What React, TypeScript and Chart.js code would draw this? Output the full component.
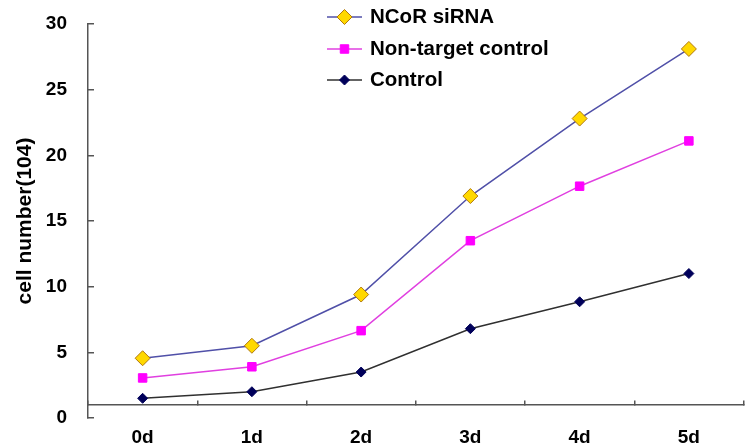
import React, { useEffect, useRef } from "react";
import { Chart, registerables } from "chart.js";

Chart.register(...registerables);

const categories = ["0d", "1d", "2d", "3d", "4d", "5d"];
const ncorSiRNA = [4.55, 5.5, 9.4, 16.9, 22.8, 28.1];
const nonTargetControl = [3.05, 3.9, 6.65, 13.5, 17.65, 21.1];
const control = [1.5, 2.0, 3.5, 6.8, 8.85, 11.0];
const seriesLabels = ["NCoR siRNA", "Non-target control", "Control"];
const yAxisTitle = "cell number(104)";

const FONT = "'Liberation Sans', Arial, sans-serif";

function drawMarker(ctx: CanvasRenderingContext2D, style: string, x: number, y: number, r: number) {
  ctx.beginPath();
  if (style === "rectRot") {
    ctx.moveTo(x - r, y);
    ctx.lineTo(x, y - r);
    ctx.lineTo(x + r, y);
    ctx.lineTo(x, y + r);
    ctx.closePath();
  } else {
    const s = r * Math.SQRT1_2;
    ctx.rect(x - s, y - s, 2 * s, 2 * s);
  }
  ctx.fill();
  ctx.stroke();
}

const legendPlugin = {
  id: "customLegend",
  afterDraw(chart: any) {
    const ctx: CanvasRenderingContext2D = chart.ctx;
    const x0 = 327;
    const x1 = 362;
    const tx = 370;
    const rows = [17, 49, 80];
    ctx.save();
    chart.data.datasets.forEach((ds: any, i: number) => {
      const y = rows[i];
      ctx.strokeStyle = ds.borderColor;
      ctx.lineWidth = ds.borderWidth;
      ctx.beginPath();
      ctx.moveTo(x0, y);
      ctx.lineTo(x1, y);
      ctx.stroke();
      ctx.fillStyle = ds.pointBackgroundColor;
      ctx.strokeStyle = ds.pointBorderColor;
      ctx.lineWidth = ds.pointBorderWidth;
      drawMarker(ctx, ds.pointStyle, (x0 + x1) / 2, y, ds.pointRadius);
      ctx.fillStyle = "#000";
      ctx.font = `bold 20.5px ${FONT}`;
      ctx.textBaseline = "middle";
      ctx.textAlign = "left";
      ctx.fillText(ds.label, tx, y);
    });
    ctx.restore();
  },
};

export default function App() {
  const ref = useRef<HTMLCanvasElement | null>(null);

  useEffect(() => {
    document.body.style.margin = "0";
    if (!ref.current) return;
    const chart = new Chart(ref.current, {
      type: "line",
      data: {
        labels: categories,
        datasets: [
          {
            label: seriesLabels[0],
            data: ncorSiRNA,
            borderColor: "#5050A8",
            borderWidth: 1.5,
            pointStyle: "rectRot",
            pointRadius: 7.5,
            pointBackgroundColor: "#FFD800",
            pointBorderColor: "#B07810",
            pointBorderWidth: 1,
            tension: 0,
          },
          {
            label: seriesLabels[1],
            data: nonTargetControl,
            borderColor: "#E040E0",
            borderWidth: 1.5,
            pointStyle: "rect",
            pointRadius: 6,
            pointBackgroundColor: "#FF00FF",
            pointBorderColor: "#FF00FF",
            pointBorderWidth: 1,
            tension: 0,
          },
          {
            label: seriesLabels[2],
            data: control,
            borderColor: "#303030",
            borderWidth: 1.5,
            pointStyle: "rectRot",
            pointRadius: 5,
            pointBackgroundColor: "#00005A",
            pointBorderColor: "#00005A",
            pointBorderWidth: 1,
            tension: 0,
          },
        ],
      },
      options: {
        animation: false,
        responsive: true,
        maintainAspectRatio: false,
        layout: { padding: { top: 24, bottom: 30, left: 0, right: 0 } },
        plugins: {
          legend: { display: false },
          tooltip: { enabled: false },
        },
        scales: {
          x: {
            type: "category",
            offset: true,
            position: { y: 1 } as any,
            grid: {
              offset: true,
              drawOnChartArea: false,
              tickLength: -5,
              color: "#555",
              lineWidth: 1.5,
            },
            border: { display: true, color: "#555", width: 1.5 },
            ticks: {
              color: "#000",
              padding: 26,
              font: { family: FONT, size: 19, weight: "bold" },
            },
          },
          y: {
            min: 0,
            max: 30,
            ticks: {
              stepSize: 5,
              color: "#000",
              padding: 27,
              font: { family: FONT, size: 19, weight: "bold" },
            },
            grid: {
              drawOnChartArea: false,
              tickLength: -6,
              color: "#555",
              lineWidth: 1.5,
            },
            border: { display: true, color: "#555", width: 1.5 },
            title: {
              display: true,
              text: yAxisTitle,
              color: "#000",
              padding: { top: 13, bottom: 0 },
              font: { family: FONT, size: 21, weight: "bold" },
            },
            afterFit(scale: any) {
              scale.width = 88;
              scale.paddingTop = 0;
              scale.paddingBottom = 0;
            },
          },
        },
      },
      plugins: [legendPlugin],
    });
    return () => chart.destroy();
  }, []);

  return (
    <div style={{ width: 747, height: 448, overflow: "hidden", position: "relative" }}>
      <div style={{ width: 752, height: 448, position: "relative" }}>
        <canvas ref={ref} />
      </div>
    </div>
  );
}
